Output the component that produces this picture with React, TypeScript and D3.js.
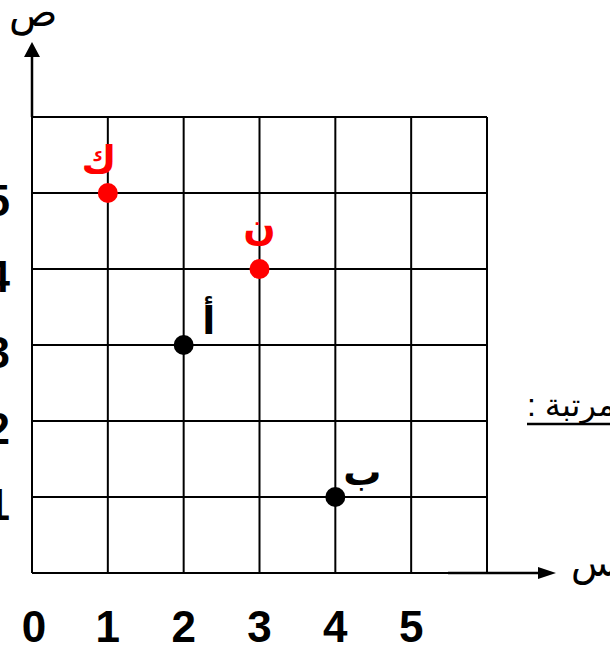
import React from 'react';
import * as d3 from 'd3';

// grid extent (cells) and tick labels
const gridCells = [0, 1, 2, 3, 4, 5, 6];
const xTickLabels = [0, 1, 2, 3, 4, 5];
const yTickLabels = [1, 2, 3, 4, 5];

// the plotted points
const pointNames = ['ك', 'ن', 'أ', 'ب'];
const pointX = [1, 3, 2, 4];
const pointY = [5, 4, 3, 1];
const pointGroup = ['given', 'given', 'asked', 'asked'];

const xAxisTitle = 'س';
const yAxisTitle = 'ص';
const sideText = 'الأزواج المرتبة :';

const W = 610;
const H = 648;
const margin = { top: 117, right: 123, bottom: 75, left: 32 };

const arabicFont = "Arial, 'DejaVu Sans', sans-serif";
const digitFont = "Arial, 'Liberation Sans', sans-serif";

export default function App() {
  const x = d3.scaleLinear().domain([0, 6]).range([margin.left, W - margin.right]);
  const y = d3.scaleLinear().domain([0, 6]).range([H - margin.bottom, margin.top]);

  const color = d3.scaleOrdinal<string, string>().domain(['given', 'asked']).range(['#ff0000', '#000000']);

  // label offsets relative to their point
  const labelOffset = [
    [-9, -20],
    [0, -29],
    [25, -11],
    [27, -12],
  ];

  const y0 = y(0);
  const xa = x(0);

  return (
    <svg width={W} height={H} style={{ position: 'absolute', left: 0, top: 0, background: '#fff' }}>
      {/* grid */}
      <g stroke="#000" strokeWidth={2}>
        {gridCells.map(v => (
          <line key={'v' + v} x1={x(v)} x2={x(v)} y1={y(0)} y2={y(6)} />
        ))}
        {gridCells.map(v => (
          <line key={'h' + v} x1={x(0)} x2={x(6)} y1={y(v)} y2={y(v)} />
        ))}
      </g>

      {/* y axis arrow */}
      <line x1={xa} x2={xa} y1={y(6)} y2={55} stroke="#000" strokeWidth={2.5} />
      <path d={`M${xa},42 L${xa - 8},57 L${xa + 8},57 Z`} fill="#000" />
      <text x={9} y={26} fontFamily={arabicFont} fontSize={40} fill="#000">{yAxisTitle}</text>

      {/* x axis arrow */}
      <line x1={448} x2={540} y1={y0} y2={y0} stroke="#000" strokeWidth={2.5} />
      <path d={`M556,${y0} L538,${y0 - 6} L538,${y0 + 6} Z`} fill="#000" />
      <text x={571} y={576} fontFamily={arabicFont} fontSize={38} fill="#000">{xAxisTitle}</text>

      {/* tick labels */}
      <g fontFamily={digitFont} fontWeight="bold" fontSize={44} fill="#000">
        {xTickLabels.map(t => (
          <text key={'xt' + t} x={x(t) + (t === 0 ? 2 : 0)} y={642} textAnchor="middle">{t}</text>
        ))}
        {yTickLabels.map(t => (
          <text key={'yt' + t} x={10} y={y(t) + 23} textAnchor="end">{t}</text>
        ))}
      </g>

      {/* side text */}
      <text x={527} y={416} fontFamily={arabicFont} fontSize={32} fill="#000" direction="rtl" textAnchor="end">{sideText}</text>
      <line x1={527} x2={W} y1={424} y2={424} stroke="#000" strokeWidth={2.5} />

      {/* points */}
      {pointNames.map((n, i) => (
        <g key={n}>
          <circle cx={x(pointX[i])} cy={y(pointY[i])} r={10} fill={color(pointGroup[i])} />
          <text
            x={x(pointX[i]) + labelOffset[i][0]}
            y={y(pointY[i]) + labelOffset[i][1]}
            textAnchor="middle"
            fontFamily={arabicFont}
            fontWeight="bold"
            fontSize={38}
            fill={color(pointGroup[i])}
          >
            {n}
          </text>
        </g>
      ))}
    </svg>
  );
}
